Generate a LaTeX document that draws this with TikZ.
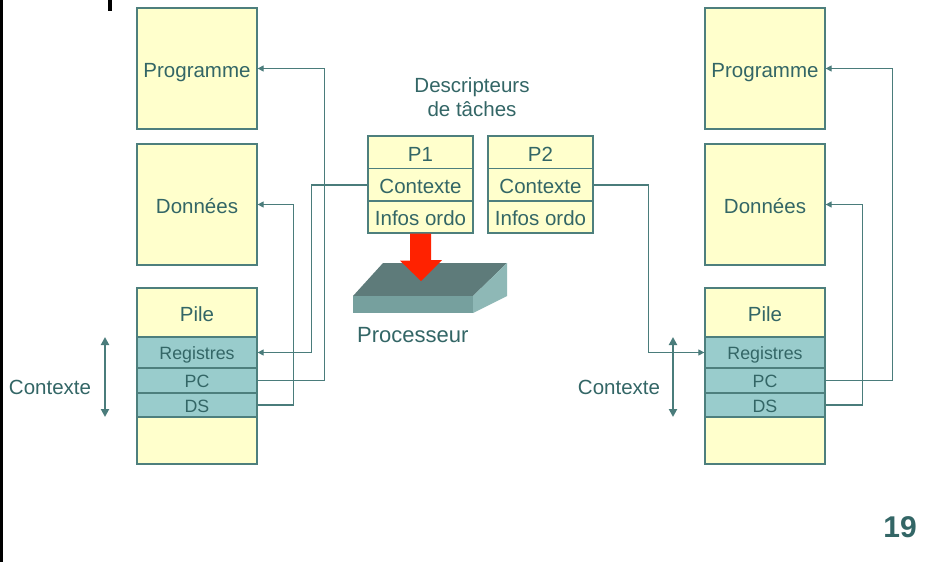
\documentclass[tikz,border=0pt]{standalone}
\usepackage{fontspec}
\setmainfont{Liberation Sans}
\usetikzlibrary{arrows.meta}
\definecolor{ink}{HTML}{336666}
\definecolor{edge}{HTML}{4D7F7D}
\definecolor{wire}{HTML}{4A7C7B}
\definecolor{paper}{HTML}{FFFFCC}
\definecolor{reg}{HTML}{99CCCC}
\definecolor{slabtop}{HTML}{5E7B7A}
\definecolor{slabfront}{HTML}{76A09E}
\definecolor{slabside}{HTML}{8EB8B6}
\definecolor{hot}{HTML}{FF2200}
\tikzset{
  seg/.style={draw=edge, line width=1.3pt, fill=paper, inner sep=0pt,
    text=ink, font=\fontsize{20.5}{24}\selectfont, minimum width=120pt,
    text height=17.6pt, text depth=0pt},
  regrow/.style={seg, fill=reg, font=\fontsize{17.8}{20}\selectfont,
    text height=14.8pt},
  desc/.style={seg, minimum width=105pt, minimum height=33pt},
  wirearrow/.style={draw=wire, line width=1.2pt, -{Triangle[length=6pt,width=6pt]}},
  span/.style={draw=wire, line width=2pt,
    {Triangle[length=8pt,width=8pt]}-{Triangle[length=8pt,width=8pt]}},
  lbl/.style={text=ink, font=\fontsize{20.5}{24}\selectfont, inner sep=0pt}
}
\begin{document}
\begin{tikzpicture}[x=1pt,y=-1pt]
\useasboundingbox (0,0) rectangle (946,562);
\fill[white] (0,0) rectangle (946,562);
% page rule and top tick
\draw[black, line width=3pt] (1.5,0) -- (1.5,562);
\draw[black, line width=4pt] (110,0) -- (110,11);

% ---- left address space ----
\node[seg, minimum height=121pt] (progL) at (197,68.5) {Programme};
\node[seg, minimum height=121pt] (donL) at (197,204.5) {Donn\'ees};
\node[seg, minimum height=49pt] (pileL) at (197,312.5) {Pile};
\node[regrow, minimum height=31pt] (regL) at (197,352.5) {Registres};
\node[regrow, minimum height=25pt] (pcL) at (197,380.5) {PC};
\node[regrow, minimum height=24pt] (dsL) at (197,405) {DS};
\node[seg, minimum height=47pt] (botL) at (197,440.5) {};
\node[lbl] (ctxL) at (50,387) {Contexte};
\coordinate (spanLt) at (105,337);
\coordinate (spanLb) at (105,417);
\draw[span] (spanLt) -- (spanLb);

% ---- right address space ----
\node[seg, minimum height=121pt] (progR) at (765,68.5) {Programme};
\node[seg, minimum height=121pt] (donR) at (765,204.5) {Donn\'ees};
\node[seg, minimum height=49pt] (pileR) at (765,312.5) {Pile};
\node[regrow, minimum height=31pt] (regR) at (765,352.5) {Registres};
\node[regrow, minimum height=25pt] (pcR) at (765,380.5) {PC};
\node[regrow, minimum height=24pt] (dsR) at (765,405) {DS};
\node[seg, minimum height=47pt] (botR) at (765,440.5) {};
\node[lbl] (ctxR) at (619,387) {Contexte};
\coordinate (spanRt) at (673,337);
\coordinate (spanRb) at (673,417);
\draw[span] (spanRt) -- (spanRb);

% ---- task descriptors ----
\node[lbl, align=center] (title) at (472,97) {Descripteurs\\de t\^aches};
\node[desc] (p1) at (420.5,152.5) {P1};
\node[desc] (c1) at (420.5,185) {Contexte};
\node[desc, minimum height=32pt] (i1) at (420.5,217) {Infos ordo};
\node[desc] (p2) at (540.5,152.5) {P2};
\node[desc] (c2) at (540.5,185) {Contexte};
\node[desc, minimum height=32pt] (i2) at (540.5,217) {Infos ordo};

% ---- processor slab ----
\fill[slabtop] (383,263) -- (507,263) -- (473,296) -- (353,296) -- cycle;
\fill[slabfront] (353,296) rectangle (473,313);
\fill[slabside] (473,296) -- (507,263) -- (507,296) -- (473,313) -- cycle;
\node[lbl, anchor=west, font=\fontsize{22}{26}\selectfont] (cpu) at (357,335) {Processeur};

% red arrow from P1 into the processor
\fill[hot] ([xshift=-10.5pt]i1.south) -- ++(0,27) -- ++(-10,0) -- (421,281)
  -- (442,260) -- ++(-11,0) -- ([xshift=10.5pt]i1.south) -- cycle;

% ---- left connectors ----
\draw[wirearrow] (pcL.east) -- ++(67,0) |- (progL.east);
\draw[wirearrow] (dsL.east) -- ++(36,0) |- (donL.east);
\draw[wirearrow] (c1.west) -- ++(-56,0) |- (regL.east);

% ---- right connectors ----
\draw[wirearrow] (pcR.east) -- ++(67,0) |- (progR.east);
\draw[wirearrow] (dsR.east) -- ++(37,0) |- (donR.east);
\draw[wirearrow] (c2.east) -- ++(55,0) |- (regR.west);

% page number
\node[text=ink, font=\bfseries\fontsize{30}{34}\selectfont, inner sep=0pt] (pageno) at (900,527) {19};
\end{tikzpicture}
\end{document}
